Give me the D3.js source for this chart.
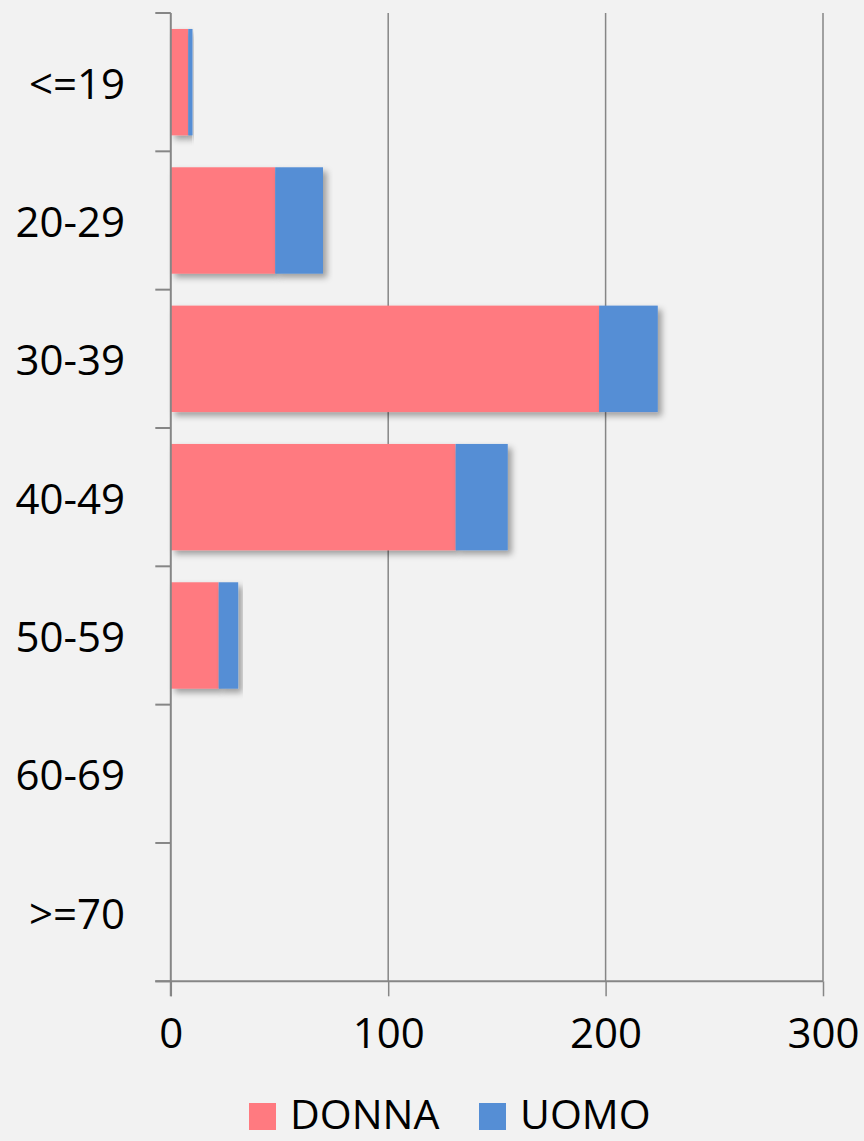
<!DOCTYPE html>
<html>
<head>
<meta charset="utf-8">
<script src="https://cdn.jsdelivr.net/npm/d3@7"></script>
<style>
  html, body { margin: 0; padding: 0; background: #f2f2f2; }
  svg { display: block; }
  text { font-family: "Open Sans", "Noto Sans", sans-serif; fill: #000; }
</style>
</head>
<body>
<svg id="chart" width="864" height="1141"></svg>
<script>
const categories = ["<=19", "20-29", "30-39", "40-49", "50-59", "60-69", ">=70"];
const donna = [8, 48, 197, 131, 22, 0, 0];
const uomo = [2, 22, 27, 24, 9, 0, 0];
const seriesNames = ["DONNA", "UOMO"];
const seriesColors = ["#ff7a80", "#558ed5"];
const xTicks = [0, 100, 200, 300];

(function () {
const rows = categories.map((c, i) => ({ cat: c, DONNA: donna[i], UOMO: uomo[i] }));

const svg = d3.select("#chart");
const pLeft = 170.8, pRight = 823, pTop = 13, pBottom = 981.3;

const x = d3.scaleLinear().domain([0, 300]).range([pLeft, pRight]);
const y = d3.scaleBand().domain(categories).range([pTop, pBottom])
  .paddingInner(0.3 / 1.3).paddingOuter(0.15 / 1.3);

const defs = svg.append("defs");
const f = defs.append("filter").attr("id", "shadow")
  .attr("x", "-10%").attr("y", "-10%").attr("width", "130%").attr("height", "130%");
f.append("feDropShadow").attr("dx", 4).attr("dy", 4).attr("stdDeviation", 3)
  .attr("flood-color", "#000").attr("flood-opacity", 0.35);

const gridColor = "#868686";

// vertical gridlines
svg.append("g").selectAll("line").data(xTicks.filter(d => d > 0)).join("line")
  .attr("x1", d => x(d)).attr("x2", d => x(d))
  .attr("y1", pTop).attr("y2", pBottom)
  .attr("stroke", gridColor).attr("stroke-width", 1.5);

// bars
const stack = d3.stack().keys(seriesNames)(rows);
svg.append("g").selectAll("g").data(stack).join("g")
  .attr("fill", (d, i) => seriesColors[i])
  .selectAll("rect").data(d => d.filter(v => v[1] - v[0] > 0)).join("rect")
  .attr("x", d => x(d[0]))
  .attr("y", d => y(d.data.cat))
  .attr("width", d => x(d[1]) - x(d[0]))
  .attr("height", y.bandwidth())
  .attr("filter", "url(#shadow)");

// x axis
const xAxis = d3.axisBottom(x).tickValues(xTicks).tickSize(15).tickPadding(22);
const gx = svg.append("g").attr("transform", `translate(0,${pBottom})`).call(xAxis);
gx.select(".domain").remove();
gx.selectAll(".tick line").attr("stroke", gridColor).attr("stroke-width", 1.5);
gx.selectAll(".tick text").attr("font-size", 42).attr("font-family", "'Open Sans', sans-serif").attr("fill", "#000");
svg.append("line").attr("x1", 155.3).attr("x2", pRight).attr("y1", pBottom).attr("y2", pBottom)
  .attr("stroke", gridColor).attr("stroke-width", 2);

// y axis line and ticks at band boundaries
svg.append("line").attr("x1", pLeft).attr("x2", pLeft).attr("y1", pTop).attr("y2", pBottom + 15)
  .attr("stroke", gridColor).attr("stroke-width", 2);
const boundaries = d3.range(categories.length + 1);
svg.append("g").selectAll("line").data(boundaries).join("line")
  .attr("x1", 155.3).attr("x2", pLeft)
  .attr("y1", i => pTop + i * (pBottom - pTop) / categories.length)
  .attr("y2", i => pTop + i * (pBottom - pTop) / categories.length)
  .attr("stroke", gridColor).attr("stroke-width", 2);

// y labels
svg.append("g").selectAll("text").data(categories).join("text")
  .attr("x", 125).attr("y", d => y(d) + y.bandwidth() / 2)
  .attr("text-anchor", "end").attr("dominant-baseline", "central")
  .attr("font-size", 42).text(d => d);

// legend
const legend = svg.append("g");
const legendX = [249, 479];
seriesNames.forEach((s, i) => {
  legend.append("rect").attr("x", legendX[i]).attr("y", 1103).attr("width", 27).attr("height", 27)
    .attr("fill", seriesColors[i]);
  legend.append("text").attr("x", legendX[i] + 41).attr("y", 1129)
    .attr("font-size", 41).text(s);
});
})();
</script>
</body>
</html>
